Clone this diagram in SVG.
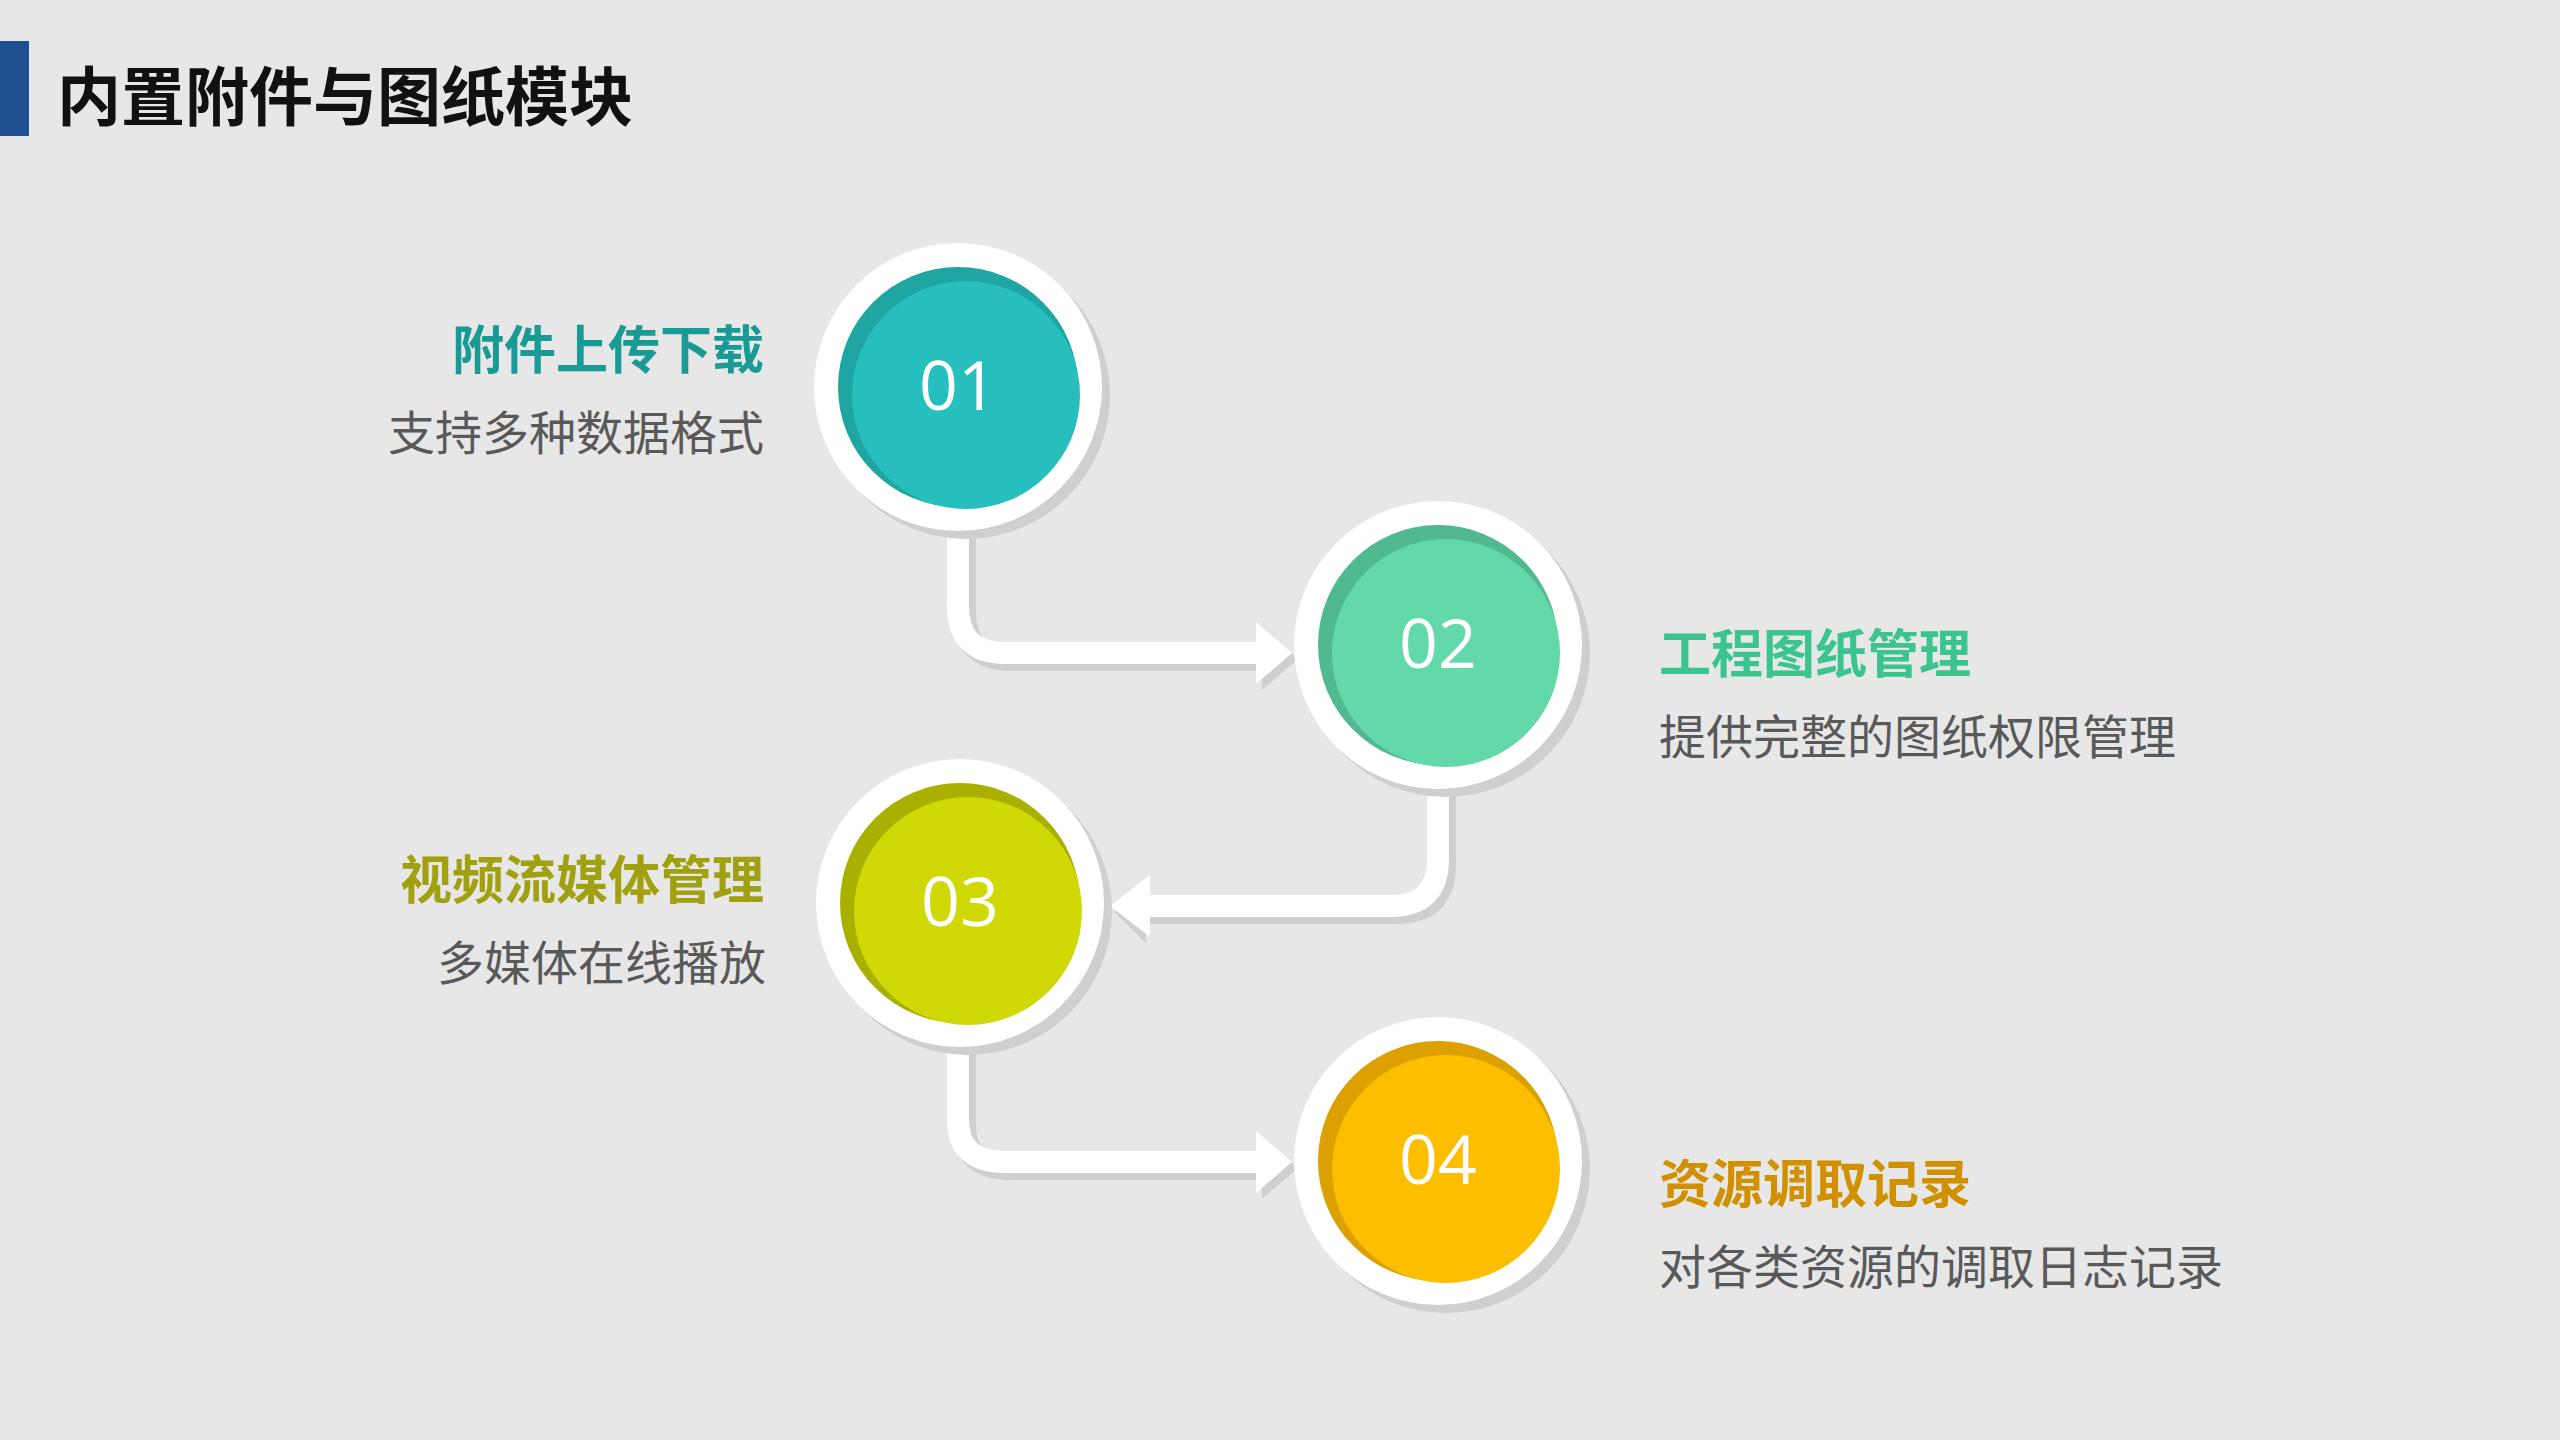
<svg xmlns="http://www.w3.org/2000/svg" width="2560" height="1440" viewBox="0 0 2560 1440">
<defs>
<style>
.t{font-family:"Noto Sans CJK SC","Noto Sans",sans-serif;font-weight:700;font-size:52px}
.s{font-family:"Noto Sans CJK SC","Noto Sans",sans-serif;font-size:47px;fill:#595959}
.n{font-family:"Open Sans","Noto Sans",sans-serif;font-size:68px;fill:#fff;text-anchor:middle}
.sh{fill:none;stroke:#cfcfcf;stroke-width:24;stroke-linejoin:round}
.ln{fill:none;stroke:#fff;stroke-width:22;stroke-linejoin:round}
</style>
</defs>
<rect width="2560" height="1440" fill="#e7e7e7"/>
<rect x="0" y="41" width="29" height="95" fill="#1f4e91"/>
<text x="57" y="120" font-family="'Noto Sans CJK SC',sans-serif" font-weight="700" font-size="64" fill="#111">内置附件与图纸模块</text>
<g id="connectors">
<path class="sh" d="M964 537 V612 Q964 659 1011 659 H1266"/>
<path class="sh" d="M1444 795 V865 Q1444 912 1397 912 H1140"/>
<path class="sh" d="M964 1053 V1126 Q964 1168 1011 1168 H1266"/>
<path d="M1262 628 L1298 659 L1262 690 Z" fill="#cfcfcf"/>
<path d="M1146 881 L1114 912 L1146 943 Z" fill="#cfcfcf"/>
<path d="M1262 1137 L1298 1168 L1262 1199 Z" fill="#cfcfcf"/>
<path class="ln" d="M958 531 V606 Q958 653 1005 653 H1262"/>
<path class="ln" d="M1438 789 V859 Q1438 906 1391 906 H1144"/>
<path class="ln" d="M958 1047 V1120 Q958 1162 1005 1162 H1262"/>
<path d="M1256 622 L1292 653 L1256 684 Z" fill="#fff"/>
<path d="M1150 875 L1110 906 L1150 937 Z" fill="#fff"/>
<path d="M1256 1131 L1292 1162 L1256 1193 Z" fill="#fff"/>
</g>
<g id="n1">
<circle cx="966" cy="395" r="144" fill="#cfcfcf"/>
<circle cx="958" cy="387" r="144" fill="#fff"/>
<circle cx="958" cy="387" r="120" fill="#1fa5a2"/>
<circle cx="966" cy="395" r="114" fill="#26bfbd"/>
<text class="n" x="958" y="410">01</text>
<text class="t" x="764" y="369" text-anchor="end" fill="#1a9a95">附件上传下载</text>
<text class="s" x="764" y="450" text-anchor="end">支持多种数据格式</text>
</g>
<g id="n2">
<circle cx="1446" cy="653" r="144" fill="#cfcfcf"/>
<circle cx="1438" cy="645" r="144" fill="#fff"/>
<circle cx="1438" cy="645" r="120" fill="#50b98f"/>
<circle cx="1446" cy="653" r="114" fill="#63d8a8"/>
<text class="n" x="1438" y="668">02</text>
<text class="t" x="1659" y="673" fill="#3cc48e">工程图纸管理</text>
<text class="s" x="1659" y="754">提供完整的图纸权限管理</text>
</g>
<g id="n3">
<circle cx="968" cy="911" r="144" fill="#cfcfcf"/>
<circle cx="960" cy="903" r="144" fill="#fff"/>
<circle cx="960" cy="903" r="120" fill="#aab000"/>
<circle cx="968" cy="911" r="114" fill="#d0d806"/>
<text class="n" x="960" y="926">03</text>
<text class="t" x="764" y="899" text-anchor="end" fill="#a0a010">视频流媒体管理</text>
<text class="s" x="766" y="980" text-anchor="end">多媒体在线播放</text>
</g>
<g id="n4">
<circle cx="1446" cy="1169" r="144" fill="#cfcfcf"/>
<circle cx="1438" cy="1161" r="144" fill="#fff"/>
<circle cx="1438" cy="1161" r="120" fill="#dca000"/>
<circle cx="1446" cy="1169" r="114" fill="#fdbe00"/>
<text class="n" x="1438" y="1184">04</text>
<text class="t" x="1659" y="1203" fill="#d09000">资源调取记录</text>
<text class="s" x="1659" y="1284">对各类资源的调取日志记录</text>
</g>
</svg>
